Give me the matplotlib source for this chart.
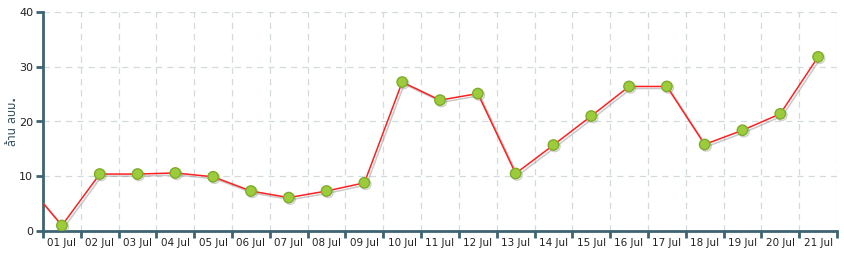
import matplotlib
matplotlib.use('Agg')
import matplotlib.pyplot as plt
import matplotlib.patheffects as pe
from matplotlib.font_manager import fontManager

# วันที่ (จุดแรก 30 Jun อยู่นอกกรอบ ถูกตัดทิ้งโดยแกน)
dias = ['30 Jun', '01 Jul', '02 Jul', '03 Jul', '04 Jul', '05 Jul', '06 Jul', '07 Jul',
        '08 Jul', '09 Jul', '10 Jul', '11 Jul', '12 Jul', '13 Jul', '14 Jul',
        '15 Jul', '16 Jul', '17 Jul', '18 Jul', '19 Jul', '20 Jul', '21 Jul']
valores = [9.2, 1.0, 10.4, 10.4, 10.6, 9.9, 7.3, 6.1, 7.3, 8.8, 27.2, 23.9, 25.1,
           10.5, 15.7, 21.0, 26.4, 26.4, 15.8, 18.4, 21.4, 31.8]
y_ticks = [0, 10, 20, 30, 40]
y_label = 'ล้าน ลบม.'

cor_eixo = '#3e6472'
cor_grid = '#d2dadb'

installed = {f.name for f in fontManager.ttflist}
thai_fonts = [f for f in ['Noto Sans Thai', 'Loma', 'Garuda', 'Tlwg Typo', 'Waree',
                          'Norasi', 'Kinnari', 'Umpush', 'Sawasdee', 'Noto Serif Thai']
              if f in installed]
plt.rcParams['font.family'] = ['DejaVu Sans'] + thai_fonts

fig = plt.figure(figsize=(8.44, 2.56), dpi=100)
ax = fig.add_axes([43 / 844, 1 - 231 / 256, 794 / 844, 219 / 256])

x = list(range(-1, len(dias) - 1))
ax.plot(x, valores, color='#ff1f1f', linewidth=1.1, zorder=3,
        path_effects=[pe.SimpleLineShadow(offset=(1.5, -1.5), shadow_color='#888888', alpha=0.45),
                      pe.Normal()])
ax.plot(x, valores, linestyle='none', marker='o', markersize=7.5,
        markerfacecolor='#9ccc3c', markeredgecolor='#7fab2a', markeredgewidth=1.0, zorder=4,
        path_effects=[pe.SimpleLineShadow(offset=(1, -1), shadow_color='#888888', alpha=0.4),
                      pe.Normal()])

n = len(dias) - 1
ax.set_xlim(-0.5, n - 0.5)
ax.set_ylim(0, 40)

# limites dos dias (grade e marcas) e rótulos no centro
ax.set_xticks([i - 0.5 for i in range(n + 1)])
ax.set_xticklabels([])
ax.set_xticks(range(n), minor=True)
ax.set_xticklabels(dias[1:], minor=True, fontsize=7.5, color='#222222')
ax.tick_params(axis='x', which='minor', length=0, pad=5)
ax.tick_params(axis='x', which='major', length=5, width=2, color=cor_eixo, direction='out')

ax.set_yticks(y_ticks)
ax.set_yticklabels([str(v) for v in y_ticks], fontsize=8, color='#222222')
ax.tick_params(axis='y', length=5, width=2, color=cor_eixo, pad=2)

ax.grid(True, which='major', color=cor_grid, linestyle=(0, (5, 4)), linewidth=0.9)
ax.set_axisbelow(True)

for s in ['top', 'right']:
    ax.spines[s].set_visible(False)
for s in ['left', 'bottom']:
    ax.spines[s].set_color(cor_eixo)
    ax.spines[s].set_linewidth(2)

ax.set_ylabel(y_label, fontsize=8.5, fontweight='bold', color='#2f4a55', labelpad=0)

fig.savefig('out.png', dpi=100)
